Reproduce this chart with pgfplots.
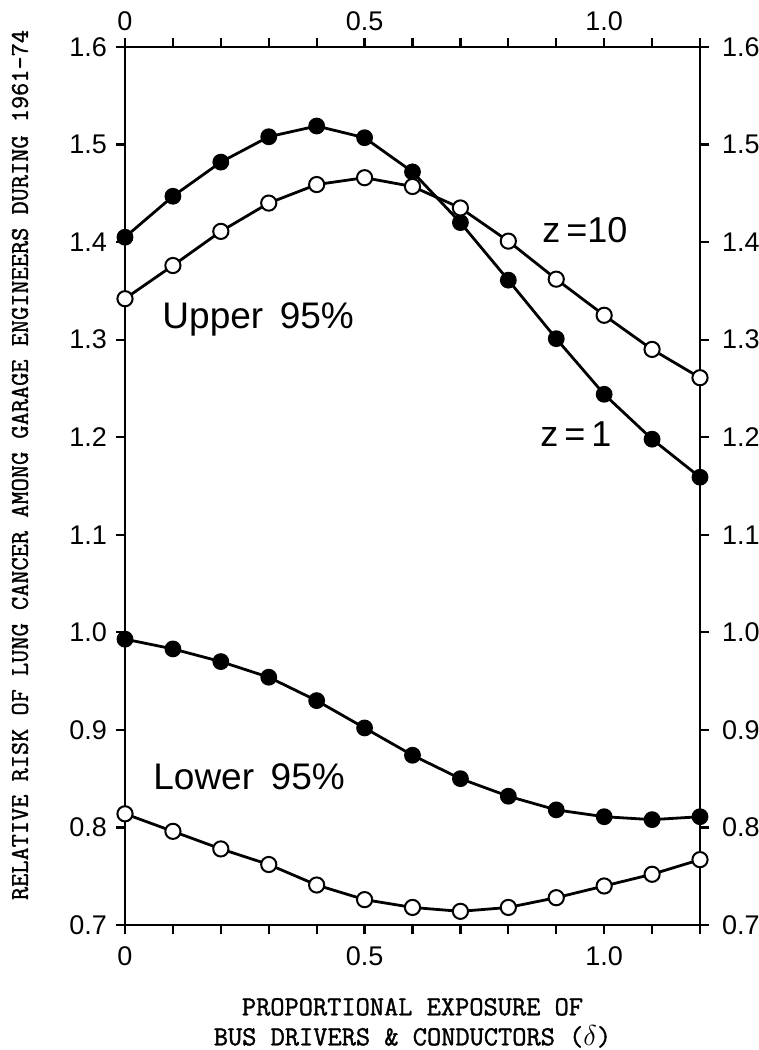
\documentclass[border=0pt]{standalone}
\usepackage{fontspec}
\setmainfont{Liberation Sans}
\newfontfamily\tw[FakeBold=1.3]{Latin Modern Mono}
\usepackage{pgfplots}
\pgfplotsset{compat=1.18}
\begin{document}
\begin{tikzpicture}
\useasboundingbox (-62.5pt,-62.5pt) rectangle (317pt,462.5pt);
\pgfplotsset{
  common/.style={
    scale only axis, width=287.5pt, height=439pt,
    at={(0,0)}, anchor=south west,
    xmin=0, xmax=1.2, ymin=0.7, ymax=1.6,
    axis line style={line width=1.3pt},
    tick align=outside,
    tick style={line width=1.1pt, black},
    major tick length=4.5pt, minor tick length=4.5pt,
    xtick={0,0.5,1.0}, xticklabels={0,0.5,1.0},
    minor xtick={0.1,0.2,0.3,0.4,0.6,0.7,0.8,0.9,1.1,1.2},
    ytick={0.7,0.8,0.9,1.0,1.1,1.2,1.3,1.4,1.5,1.6},
    yticklabels={0.7,0.8,0.9,1.0,1.1,1.2,1.3,1.4,1.5,1.6},
    tick label style={font=\fontsize{13.5}{16}\selectfont},
  }
}
\begin{axis}[common,
  xticklabel pos=lower, yticklabel pos=left,
  xticklabel style={yshift=-3pt},
  yticklabel style={xshift=-1pt},
  every axis x label/.style={at={(rel axis cs:0.5,0)}, anchor=north, yshift=-33pt,
     align=center, font=\tw\fontsize{13.8}{15}\selectfont},
  every axis y label/.style={at={(rel axis cs:0,0.5)}, xshift=-52.5pt, yshift=10.5pt,
     rotate=90, anchor=center, font=\tw\fontsize{12.8}{15}\selectfont},
  xlabel={PROPORTIONAL EXPOSURE OF\\BUS DRIVERS \& CONDUCTORS ($\delta$)},
  ylabel={RELATIVE RISK OF LUNG CANCER AMONG GARAGE ENGINEERS DURING 1961-74},
]
% Upper 95%, z = 1 (filled)
\addplot[black, line width=1.4pt, mark=*, mark size=3.8pt, mark options={fill=black, line width=0.8pt}] coordinates {
(0,1.405) (0.1,1.447) (0.2,1.482) (0.3,1.508) (0.4,1.519) (0.5,1.507) (0.6,1.472)
(0.7,1.420) (0.8,1.361) (0.9,1.301) (1.0,1.244) (1.1,1.198) (1.2,1.159)};
% Upper 95%, z = 10 (open)
\addplot[black, line width=1.4pt, mark=*, mark size=3.8pt, mark options={fill=white, line width=1pt}] coordinates {
(0,1.342) (0.1,1.376) (0.2,1.411) (0.3,1.440) (0.4,1.459) (0.5,1.466) (0.6,1.457)
(0.7,1.435) (0.8,1.401) (0.9,1.362) (1.0,1.325) (1.1,1.290) (1.2,1.261)};
% Lower 95%, z = 1 (filled)
\addplot[black, line width=1.4pt, mark=*, mark size=3.8pt, mark options={fill=black, line width=0.8pt}] coordinates {
(0,0.993) (0.1,0.983) (0.2,0.970) (0.3,0.954) (0.4,0.930) (0.5,0.902) (0.6,0.874)
(0.7,0.850) (0.8,0.832) (0.9,0.818) (1.0,0.811) (1.1,0.808) (1.2,0.811)};
% Lower 95%, z = 10 (open)
\addplot[black, line width=1.4pt, mark=*, mark size=3.8pt, mark options={fill=white, line width=1pt}] coordinates {
(0,0.814) (0.1,0.796) (0.2,0.778) (0.3,0.762) (0.4,0.741) (0.5,0.726) (0.6,0.718)
(0.7,0.714) (0.8,0.718) (0.9,0.728) (1.0,0.740) (1.1,0.752) (1.2,0.767)};
\node[font=\fontsize{18.5}{20}\selectfont] at (axis cs:0.278,1.321) {Upper\hspace{0.45em}95\%};
\node[font=\fontsize{18.5}{20}\selectfont] at (axis cs:0.259,0.852) {Lower\hspace{0.45em}95\%};
\node[font=\fontsize{18}{20}\selectfont] at (axis cs:0.96,1.412) {z\,=10};
\node[font=\fontsize{18}{20}\selectfont] at (axis cs:0.941,1.203) {z\,=\,1};
\end{axis}
\begin{axis}[common,
  xticklabel pos=upper, yticklabel pos=right,
  xticklabel style={yshift=0pt},
  yticklabel style={xshift=3pt},
  axis line style={draw=none},
]
\end{axis}
\end{tikzpicture}
\end{document}
